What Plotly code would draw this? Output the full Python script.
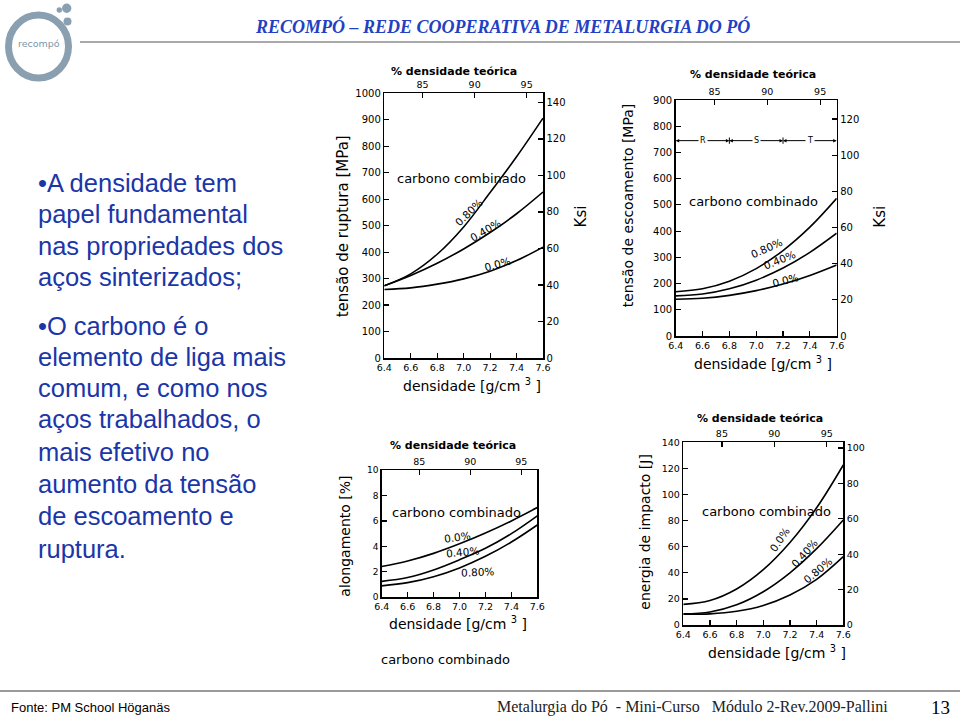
import plotly.graph_objects as go

W, H = 960, 718

# ---------------- data ----------------
density = [6.4, 6.6, 6.8, 7.0, 7.2, 7.4, 7.6]
density_ticks = [6.4, 6.6, 6.8, 7.0, 7.2, 7.4, 7.6]
density_ticktext = ["6.4", "6.6", "6.8", "7.0", "7.2", "7.4", "7.6"]
pct_ticks = [85, 90, 95]
pct_ticktext = ["85", "90", "95"]
theoretical_density = 7.87
MPA_PER_KSI = 6.895
J_PER_FTLB = 1.3558

# tensão de ruptura [MPa]
ruptura_080 = [273, 318, 392, 495, 625, 760, 906]
ruptura_040 = [273, 312, 358, 412, 474, 545, 627]
ruptura_000 = [259, 265, 279, 299, 328, 368, 419]
# tensão de escoamento [MPa]
escoamento_080 = [169, 180, 209, 257, 326, 415, 525]
escoamento_040 = [153, 160, 180, 213, 259, 319, 392]
escoamento_000 = [140, 144, 155, 173, 198, 231, 271]
# alongamento [%]
alongamento_000 = [2.42, 2.85, 3.45, 4.2, 5.05, 6.0, 7.05]
alongamento_040 = [1.25, 1.55, 2.15, 2.95, 3.85, 5.0, 6.4]
alongamento_080 = [0.9, 1.15, 1.62, 2.31, 3.22, 4.34, 5.68]
# energia de impacto [J]
impacto_000 = [15.8, 18.8, 27.6, 42.4, 63.2, 89.8, 122.6]
impacto_040 = [8.5, 10, 15.5, 25.5, 40, 58.5, 80.5]
impacto_080 = [8.2, 8.5, 10.5, 15, 23, 35, 52.4]

# R / S / T zones (tensão de escoamento)
zone_bounds = [6.4, 6.8, 7.2, 7.6]
zone_names = ["R", "S", "T"]
zone_level = 745

left_ticks_rup = list(range(0, 1001, 100))
left_ticks_esc = list(range(0, 901, 100))
left_ticks_al = list(range(0, 11, 2))
left_ticks_imp = list(range(0, 141, 20))
ksi_ticks_rup = list(range(0, 141, 20))
ksi_ticks_esc = list(range(0, 121, 20))
ftlb_ticks_imp = list(range(0, 101, 20))

TEXT_BLUE = "#1a36a8"
AXF = "DejaVu Sans"


def PX(x):
    return x / W


def PY(y):
    return 1 - y / H


charts = [
    dict(dx=(384.3, 543), dy=(93.3, 358), ymax=1000, lticks=left_ticks_rup, yfs=10,
         rmax=1000 / MPA_PER_KSI, rticks=ksi_ticks_rup,
         series=[ruptura_080, ruptura_040, ruptura_000],
         names=["0.80%", "0.40%", "0.0%"],
         lab=[(7.04, 551, -44), (7.167, 482, -30), (7.255, 356, -16)],
         top=(454, 71.7), ytitle="tensão de ruptura [MPa]", ytpos=(343.3, 226), ytsize=15,
         xtpos=(471.7, 385), rtitle="Ksi", rtpos=(580.7, 216.7),
         cc=(461.7, 178.3)),
    dict(dx=(675.7, 836.7), dy=(100, 336), ymax=900, lticks=left_ticks_esc, yfs=10,
         rmax=900 / MPA_PER_KSI, rticks=ksi_ticks_esc,
         series=[escoamento_080, escoamento_040, escoamento_000],
         names=["0.80%", "0.40%", "0.0%"],
         lab=[(7.078, 334, -24), (7.17, 288, -22), (7.22, 214, -14)],
         top=(753.3, 75), ytitle="tensão de escoamento [MPa]", ytpos=(628.3, 205), ytsize=14,
         xtpos=(763.3, 363.3), rtitle="Ksi", rtpos=(880, 216.7),
         cc=(753.3, 201.7)),
    dict(dx=(381.7, 537.3), dy=(470, 597.3), ymax=10, lticks=left_ticks_al, yfs=9,
         rmax=None, rticks=[],
         series=[alongamento_000, alongamento_040, alongamento_080],
         names=["0.0%", "0.40%", "0.80%"],
         lab=[(6.986, 4.71, -8), (7.022, 3.53, -5), (7.14, 2.02, -3)],
         top=(453.3, 445), ytitle="alongamento [%]", ytpos=(345, 536.7), ytsize=14,
         xtpos=(458.3, 623.3), rtitle=None, rtpos=None,
         cc=(456, 512)),
    dict(dx=(683.3, 843.3), dy=(442.3, 625), ymax=140, lticks=left_ticks_imp, yfs=9.5,
         rmax=140 / J_PER_FTLB, rticks=ftlb_ticks_imp,
         series=[impacto_000, impacto_040, impacto_080],
         names=["0.0%", "0.40%", "0.80%"],
         lab=[(7.125, 65.9, -56), (7.31, 54.9, -48), (7.41, 42.1, -40)],
         top=(760, 418.3), ytitle="energia de impacto [J]", ytpos=(645, 531.7), ytsize=14,
         xtpos=(776.7, 651.7), rtitle=None, rtpos=None,
         cc=(766.7, 511.7)),
]

fig = go.Figure()
layout = dict(width=W, height=H, autosize=False,
              margin=dict(l=0, r=0, t=0, b=0, pad=0, autoexpand=False),
              paper_bgcolor="white", plot_bgcolor="rgba(0,0,0,0)", showlegend=False)
annotations = []
shapes = []

common = dict(showgrid=False, zeroline=False, showline=True, linecolor="black", linewidth=1.5,
              ticks="inside", ticklen=5, tickcolor="black", tickwidth=1.2, automargin=False,
              tickfont=dict(family=AXF, size=9.5, color="black"), fixedrange=True)


def ref(a, n):
    return a if n == 1 else f"{a}{n}"


def key(a, n):
    return f"{a}axis" if n == 1 else f"{a}axis{n}"


def ptext(x, y, text, size, family=AXF, color="black", angle=0, xanchor="center"):
    return dict(x=PX(x), y=PY(y), xref="paper", yref="paper", text=text, showarrow=False,
                textangle=angle, xanchor=xanchor, yanchor="middle",
                font=dict(family=family, size=size, color=color))


for i, c in enumerate(charts):
    nb, nt = 2 * i + 1, 2 * i + 2
    bx, tx, ly, ry = ref("x", nb), ref("x", nt), ref("y", nb), ref("y", nt)
    yfont = dict(family=AXF, size=c["yfs"], color="black")
    layout[key("x", nb)] = dict(common, domain=[PX(c["dx"][0]), PX(c["dx"][1])], anchor=ly,
                                range=[6.4, 7.6], tickvals=density_ticks, ticktext=density_ticktext)
    layout[key("x", nt)] = dict(common, overlaying=bx, side="top", anchor=ly,
                                range=[6.4 / theoretical_density * 100, 7.6 / theoretical_density * 100],
                                tickvals=pct_ticks, ticktext=pct_ticktext)
    layout[key("y", nb)] = dict(common, domain=[PY(c["dy"][1]), PY(c["dy"][0])], anchor=bx,
                                range=[0, c["ymax"]], tickvals=c["lticks"], tickfont=yfont,
                                ticktext=[str(v) for v in c["lticks"]])
    if c["rmax"]:
        layout[key("y", nt)] = dict(common, overlaying=ly, side="right", anchor=bx,
                                    range=[0, c["rmax"]], tickvals=c["rticks"], tickfont=yfont,
                                    ticktext=[str(v) for v in c["rticks"]])
    else:
        layout[key("y", nt)] = dict(common, overlaying=ly, side="right", anchor=bx,
                                    range=[0, 1], ticks="", showticklabels=False)
    fig.add_trace(go.Scatter(x=[None], y=[None], xaxis=tx, yaxis=ry, showlegend=False, hoverinfo="skip"))
    for vals in c["series"]:
        fig.add_trace(go.Scatter(x=density, y=vals, mode="lines", xaxis=bx, yaxis=ly,
                                 line=dict(color="black", width=1.6, shape="spline", smoothing=1.0),
                                 hoverinfo="skip", showlegend=False))
    for name, (lx, lyv, ang) in zip(c["names"], c["lab"]):
        annotations.append(dict(x=lx, y=lyv, xref=bx, yref=ly, text=name, showarrow=False,
                                xanchor="center", yanchor="middle",
                                textangle=ang, font=dict(family=AXF, size=10.5, color="black")))
    annotations.append(ptext(*c["top"], "<b>% densidade teórica</b>", 11))
    annotations.append(ptext(*c["ytpos"], c["ytitle"], c["ytsize"], angle=-90))
    annotations.append(ptext(*c["xtpos"], "densidade [g/cm <sup>3</sup> ]", 14))
    if c["rtitle"]:
        annotations.append(ptext(*c["rtpos"], c["rtitle"], 15, angle=-90))
    annotations.append(ptext(*c["cc"], "carbono combinado", 13))

# R/S/T zones on chart 2 (axes x3 / y3)
fig.add_trace(go.Scatter(x=[zone_bounds[1], zone_bounds[1], None, zone_bounds[2], zone_bounds[2]],
                         y=[zone_level - 12, zone_level + 12, None, zone_level - 12, zone_level + 12],
                         mode="lines", line=dict(color="black", width=1), xaxis="x3", yaxis="y3",
                         hoverinfo="skip", showlegend=False))
for k, name in enumerate(zone_names):
    a, b = zone_bounds[k], zone_bounds[k + 1]
    mid = (a + b) / 2
    for end in (a, b):
        annotations.append(dict(x=end, y=zone_level, xref="x3", yref="y3", ax=mid, ay=zone_level,
                                axref="x3", ayref="y3", text="", showarrow=True, arrowhead=2,
                                arrowsize=0.7, arrowwidth=1, arrowcolor="black"))
    annotations.append(dict(x=mid, y=zone_level, xref="x3", yref="y3", text=name, showarrow=False,
                            xanchor="center", yanchor="middle",
                            bgcolor="white", borderpad=1, font=dict(family=AXF, size=8, color="black")))

# caption under chart 3
annotations.append(ptext(445, 659, "carbono combinado", 13))

# ---------------- slide text ----------------
text_lines = [("•A densidade tem", 181.7), ("papel fundamental", 213), ("nas propriedades dos", 245),
              ("aços sinterizados;", 276), ("•O carbono é o", 325), ("elemento de liga mais", 356),
              ("comum, e como nos", 387.4), ("aços trabalhados, o", 418.5), ("mais efetivo no", 451),
              ("aumento da tensão", 483), ("de escoamento e", 515), ("ruptura.", 547.5)]
for t, yy in text_lines:
    annotations.append(ptext(36, yy + 1, t, 25.5, family="Liberation Sans", color=TEXT_BLUE, xanchor="left"))

annotations.append(ptext(502.5, 27, "<b><i>RECOMPÓ – REDE COOPERATIVA DE METALURGIA DO PÓ</i></b>", 18,
                         family="Liberation Serif", color="#2340c4"))
annotations.append(ptext(9, 707, "Fonte: PM School Höganäs", 13, family="Liberation Sans", xanchor="left"))
annotations.append(ptext(692.5, 707, "Metalurgia do Pó  - Mini-Curso   Módulo 2-Rev.2009-Pallini", 16,
                         family="Liberation Serif", color="#222222"))
annotations.append(ptext(940.5, 707, "13", 19, family="Liberation Serif"))
annotations.append(ptext(38.5, 43.5, "recompó", 9.5, family="DejaVu Sans", color="#7d95a8"))

# logo + rules
LOGO = "#8aa0b1"
shapes.append(dict(type="circle", xref="paper", yref="paper", x0=PX(8.5), x1=PX(68.5), y0=PY(78), y1=PY(15),
                   line=dict(color=LOGO, width=7)))
for cx, cy, r in [(66.7, 8.3, 4.7), (59.3, 10, 2.7), (67.5, 21.5, 4)]:
    shapes.append(dict(type="circle", xref="paper", yref="paper", x0=PX(cx - r), x1=PX(cx + r),
                       y0=PY(cy + r), y1=PY(cy - r), fillcolor=LOGO, line=dict(width=0)))
shapes.append(dict(type="line", xref="paper", yref="paper", x0=PX(80), x1=PX(960), y0=PY(42), y1=PY(42),
                   line=dict(color="#8c8c8c", width=1.5)))
shapes.append(dict(type="line", xref="paper", yref="paper", x0=PX(0), x1=PX(960), y0=PY(691), y1=PY(691),
                   line=dict(color="#9a9a9a", width=2)))

layout["annotations"] = annotations
layout["shapes"] = shapes
fig.update_layout(**layout)
fig.write_html("out.html", config={"displayModeBar": False, "staticPlot": True},
               post_script="document.body.style.margin='0';document.body.style.overflow='hidden';")
